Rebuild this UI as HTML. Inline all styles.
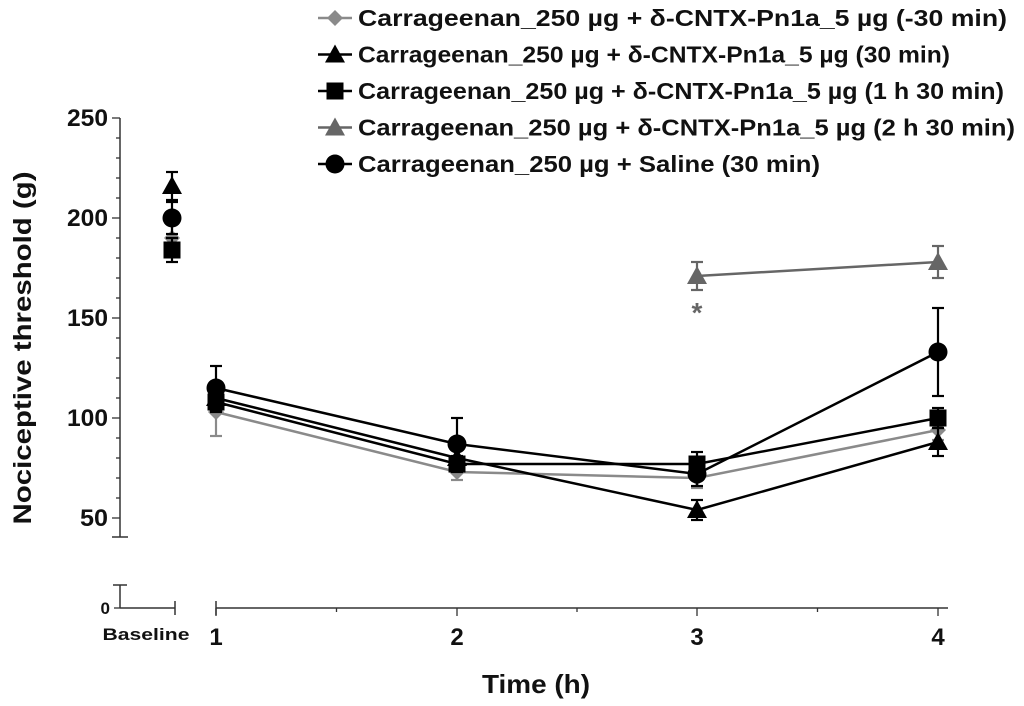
<!DOCTYPE html>
<html><head><meta charset="utf-8"><style>
body{margin:0;background:#fff}
svg text{font-family:"Liberation Sans",sans-serif;font-weight:bold}
</style></head><body>
<svg id="c" width="1024" height="701" xmlns="http://www.w3.org/2000/svg"></svg>
<script>
const timeLabels=["Baseline","1","2","3","4"];
const yTicks=[50,100,150,200,250];
const sGrayDiamond=[190,103,73,70,94];
const eGrayDiamond=[8,12,4,5,5];
const sBlackTri=[216,110,80,54,88];
const eBlackTri=[7,5,4,5,7];
const sSquare=[184,108,77,77,100];
const eSquare=[6,5,4,6,5];
const sGrayTri=[null,null,null,171,178];
const eGrayTri=[null,null,null,7,8];
const sCircle=[200,115,87,72,133];
const eCircle=[8,11,13,6,22];
const legendLabels=["Carrageenan_250 \u00b5g + \u03b4-CNTX-Pn1a_5 \u00b5g (-30 min)","Carrageenan_250 \u00b5g + \u03b4-CNTX-Pn1a_5 \u00b5g (30 min)","Carrageenan_250 \u00b5g + \u03b4-CNTX-Pn1a_5 \u00b5g (1 h 30 min)","Carrageenan_250 \u00b5g + \u03b4-CNTX-Pn1a_5 \u00b5g (2 h 30 min)","Carrageenan_250 \u00b5g + Saline (30 min)"];
const legendEnds=[1007,950,1004,1015,820];

const svg=document.getElementById('c');
const NS="http://www.w3.org/2000/svg";
function el(t,a,p){const e=document.createElementNS(NS,t);for(const k in a)e.setAttribute(k,a[k]);(p||svg).appendChild(e);return e;}
function y(v){return 518-(v-50)*2;}
const xPos=[172,216,457,697,938];
function x(i){return xPos[i];}
const AX="#333";
let g=el('g',{});


el('line',{x1:120,y1:y(250),x2:120,y2:537,stroke:AX,'stroke-width':1.5},g);
el('line',{x1:112,y1:537,x2:128,y2:537,stroke:AX,'stroke-width':1.5},g);
for(let v=50;v<=250;v+=10){const big=v%50===0;el('line',{x1:big?112:116,y1:y(v),x2:120,y2:y(v),stroke:AX,'stroke-width':1.3},g);}
yTicks.forEach(v=>{const t=el('text',{x:108,y:y(v)+8,'text-anchor':'end','font-size':24,fill:'#111',textLength:41,lengthAdjust:'spacingAndGlyphs'},g);t.textContent=v;
if(v<100)t.setAttribute('textLength',28);

});
el('line',{x1:120,y1:585,x2:120,y2:608,stroke:AX,'stroke-width':1.5},g);
el('line',{x1:113,y1:585,x2:127,y2:585,stroke:AX,'stroke-width':1.5},g);
el('line',{x1:114,y1:608,x2:120,y2:608,stroke:AX,'stroke-width':1.3},g);
let t0=el('text',{x:110,y:614,'text-anchor':'end','font-size':17,fill:'#111'},g);t0.textContent='0';
let yt=el('text',{x:0,y:0,transform:'translate(31,348) rotate(-90)','text-anchor':'middle','font-size':25,fill:'#111',textLength:353,lengthAdjust:'spacingAndGlyphs'},g);yt.textContent='Nociceptive threshold (g)';


let gx=el('g',{});


el('line',{x1:120,y1:608,x2:175,y2:608,stroke:AX,'stroke-width':1.5},gx);
el('line',{x1:175,y1:601,x2:175,y2:615,stroke:AX,'stroke-width':1.5},gx);
el('line',{x1:216,y1:608,x2:948,y2:608,stroke:AX,'stroke-width':1.5},gx);
el('line',{x1:216,y1:601,x2:216,y2:615,stroke:AX,'stroke-width':1.5},gx);
for(let i=1;i<5;i++){el('line',{x1:x(i),y1:608,x2:x(i),y2:616,stroke:AX,'stroke-width':1.3},gx);
if(i<4)el('line',{x1:(x(i)+x(i+1))/2,y1:608,x2:(x(i)+x(i+1))/2,y2:612,stroke:AX,'stroke-width':1.3},gx);}
timeLabels.forEach((l,i)=>{const t=el('text',{x:i===0?146:x(i),y:i===0?640:645,'text-anchor':'middle','font-size':i===0?17:24,fill:'#111'},gx);t.textContent=l;
if(i===0){t.setAttribute('textLength',87);t.setAttribute('lengthAdjust','spacingAndGlyphs');}

});
let xt=el('text',{x:536,y:693,'text-anchor':'middle','font-size':26,fill:'#111',textLength:108,lengthAdjust:'spacingAndGlyphs'},gx);xt.textContent='Time (h)';



function marker(shape,cx,cy,col,p){
 if(shape==='diamond')return el('polygon',{points:`${cx},${cy-8} ${cx+8},${cy} ${cx},${cy+8} ${cx-8},${cy}`,fill:col},p);
 if(shape==='tri')return el('polygon',{points:`${cx},${cy-10} ${cx+10},${cy+8} ${cx-10},${cy+8}`,fill:col},p);
 if(shape==='square')return el('rect',{x:cx-8.5,y:cy-8.5,width:17,height:17,fill:col},p);
 return el('circle',{cx:cx,cy:cy,r:9.5,fill:col},p);
}
const series=[
 {name:'series-pn1a-minus30',d:sGrayDiamond,e:eGrayDiamond,shape:'diamond',col:'#8a8a8a'},
 {name:'series-pn1a-30',d:sBlackTri,e:eBlackTri,shape:'tri',col:'#000'},
 {name:'series-pn1a-1h30',d:sSquare,e:eSquare,shape:'square',col:'#000'},
 {name:'series-pn1a-2h30',d:sGrayTri,e:eGrayTri,shape:'tri',col:'#666'},
 {name:'series-saline',d:sCircle,e:eCircle,shape:'circle',col:'#000'}];
series.forEach(s=>{
 const gs=el('g',{});
 
 
 let pts=[];
 for(let i=1;i<5;i++)if(s.d[i]!=null)pts.push(x(i)+','+y(s.d[i]));
 el('polyline',{points:pts.join(' '),fill:'none',stroke:s.col,'stroke-width':2.5},gs);
 s.d.forEach((v,i)=>{if(v==null)return;
  const cx=x(i),e=s.e[i];
  el('line',{x1:cx,y1:y(v+e),x2:cx,y2:y(v-e),stroke:s.col,'stroke-width':2.2},gs);
  el('line',{x1:cx-6,y1:y(v+e),x2:cx+6,y2:y(v+e),stroke:s.col,'stroke-width':2.2},gs);
  el('line',{x1:cx-6,y1:y(v-e),x2:cx+6,y2:y(v-e),stroke:s.col,'stroke-width':2.2},gs);
  const m=marker(s.shape,cx,y(v),s.col,gs);
  
  
 });
});
let st=el('text',{x:697,y:322,'text-anchor':'middle','font-size':28,fill:'#666'});st.textContent='*';


const lg=el('g',{});


legendLabels.forEach((l,i)=>{
 const ly=18+i*36.5,s=series[i];
 const ge=el('g',{},lg);
 
 
 el('line',{x1:318,y1:ly,x2:352,y2:ly,stroke:s.col,'stroke-width':2.5},ge);
 marker(s.shape,335,ly,s.col,ge);
 const t=el('text',{x:358,y:ly+8,'font-size':23,fill:'#111',textLength:legendEnds[i]-358,lengthAdjust:'spacingAndGlyphs'},ge);t.textContent=l;
});
</script>
</body></html>
